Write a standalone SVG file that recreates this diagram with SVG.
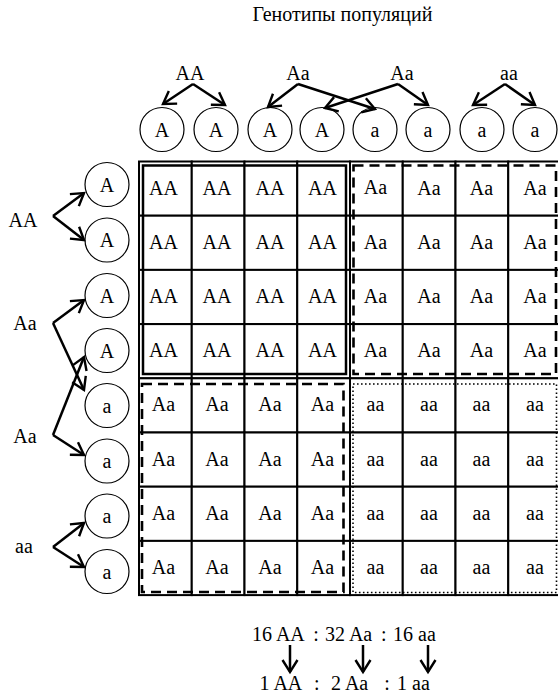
<svg xmlns="http://www.w3.org/2000/svg" width="558" height="694" viewBox="0 0 558 694" font-family="'Liberation Serif', 'Times New Roman', serif">
<style>
  text { font-family: "Liberation Serif", "Times New Roman", serif; font-size: 20px; fill: #000; text-anchor: middle; }
  .gam circle { fill: #fff; stroke: #000; stroke-width: 1.2; }
  .cell rect { fill: #fff; stroke: #000; stroke-width: 2; }
  .arr { fill: none; stroke: #000; stroke-width: 2.5; marker-end: url(#ah); }
  .box { fill: none; stroke: #000; }
  .l { text-anchor: start; }
</style>
<defs>
  <marker id="ah" viewBox="0 0 16 16" refX="14" refY="8" markerWidth="16" markerHeight="16" markerUnits="userSpaceOnUse" orient="auto" overflow="visible">
    <path d="M2,0.5 L14,8 L2,15.5" fill="none" stroke="#000" stroke-width="2.4"/>
  </marker>
</defs>
<rect width="558" height="694" fill="#fff"/>

<g id="title"><text x="342.5" y="20.5">Генотипы популяций</text></g>

<!-- parent genotype labels (top) -->
<g id="top-AA"><text x="190" y="79.5">AA</text></g>
<g id="top-Aa1"><text x="298" y="79.5">Aa</text></g>
<g id="top-Aa2"><text x="402" y="79.5">Aa</text></g>
<g id="top-aa"><text x="509" y="79.5">aa</text></g>

<!-- parent genotype labels (left) -->
<g id="left-AA"><text x="23" y="226.5">AA</text></g>
<g id="left-Aa1"><text x="25" y="330">Aa</text></g>
<g id="left-Aa2"><text x="25" y="443">Aa</text></g>
<g id="left-aa"><text x="24" y="553">aa</text></g>

<!-- top gametes -->
<g class="gam">
  <g id="tg1"><circle cx="162" cy="129.5" r="22"/><text x="162" y="137">A</text></g>
  <g id="tg2"><circle cx="216" cy="129.5" r="22"/><text x="216" y="137">A</text></g>
  <g id="tg3"><circle cx="270" cy="129.5" r="22"/><text x="270" y="137">A</text></g>
  <g id="tg4"><circle cx="322" cy="129.5" r="22"/><text x="322" y="137">A</text></g>
  <g id="tg5"><circle cx="375" cy="129.5" r="22"/><text x="375" y="137">a</text></g>
  <g id="tg6"><circle cx="428" cy="129.5" r="22"/><text x="428" y="137">a</text></g>
  <g id="tg7"><circle cx="482" cy="129.5" r="22"/><text x="482" y="137">a</text></g>
  <g id="tg8"><circle cx="535" cy="129.5" r="22"/><text x="535" y="137">a</text></g>
</g>

<!-- left gametes -->
<g class="gam">
  <g id="lg1"><circle cx="107" cy="184.5" r="22"/><text x="107" y="191.5">A</text></g>
  <g id="lg2"><circle cx="107" cy="240" r="22"/><text x="107" y="247">A</text></g>
  <g id="lg3"><circle cx="107" cy="295.5" r="22"/><text x="107" y="302.5">A</text></g>
  <g id="lg4"><circle cx="107" cy="350.5" r="22"/><text x="107" y="357.5">A</text></g>
  <g id="lg5"><circle cx="107" cy="405.5" r="22"/><text x="107" y="412.5">a</text></g>
  <g id="lg6"><circle cx="107" cy="461" r="22"/><text x="107" y="468">a</text></g>
  <g id="lg7"><circle cx="107" cy="516" r="22"/><text x="107" y="523">a</text></g>
  <g id="lg8"><circle cx="107" cy="571.5" r="22"/><text x="107" y="578.5">a</text></g>
</g>

<!-- Punnett grid cells -->
<g class="cell">
  <g id="c11"><rect x="139" y="161.5" width="52.75" height="54.2"/><text x="163.5" y="194.6">AA</text></g>
  <g id="c12"><rect x="191.75" y="161.5" width="52.75" height="54.2"/><text x="217" y="194.6">AA</text></g>
  <g id="c13"><rect x="244.5" y="161.5" width="52.75" height="54.2"/><text x="270" y="194.6">AA</text></g>
  <g id="c14"><rect x="297.25" y="161.5" width="52.75" height="54.2"/><text x="322.5" y="194.6">AA</text></g>
  <g id="c15"><rect x="350" y="161.5" width="52.75" height="54.2"/><text x="375.5" y="193.5">Aa</text></g>
  <g id="c16"><rect x="402.75" y="161.5" width="52.75" height="54.2"/><text x="429" y="194.6">Aa</text></g>
  <g id="c17"><rect x="455.5" y="161.5" width="52.75" height="54.2"/><text x="481.5" y="194.6">Aa</text></g>
  <g id="c18"><rect x="508.25" y="161.5" width="52.75" height="54.2"/><text x="535" y="194.6">Aa</text></g>

  <g id="c21"><rect x="139" y="215.7" width="52.75" height="54.2"/><text x="163.5" y="248.8">AA</text></g>
  <g id="c22"><rect x="191.75" y="215.7" width="52.75" height="54.2"/><text x="217" y="248.8">AA</text></g>
  <g id="c23"><rect x="244.5" y="215.7" width="52.75" height="54.2"/><text x="270" y="248.8">AA</text></g>
  <g id="c24"><rect x="297.25" y="215.7" width="52.75" height="54.2"/><text x="322.5" y="248.8">AA</text></g>
  <g id="c25"><rect x="350" y="215.7" width="52.75" height="54.2"/><text x="375.5" y="248.8">Aa</text></g>
  <g id="c26"><rect x="402.75" y="215.7" width="52.75" height="54.2"/><text x="429" y="248.8">Aa</text></g>
  <g id="c27"><rect x="455.5" y="215.7" width="52.75" height="54.2"/><text x="481.5" y="248.8">Aa</text></g>
  <g id="c28"><rect x="508.25" y="215.7" width="52.75" height="54.2"/><text x="535" y="248.8">Aa</text></g>

  <g id="c31"><rect x="139" y="269.9" width="52.75" height="54.2"/><text x="163.5" y="303">AA</text></g>
  <g id="c32"><rect x="191.75" y="269.9" width="52.75" height="54.2"/><text x="217" y="303">AA</text></g>
  <g id="c33"><rect x="244.5" y="269.9" width="52.75" height="54.2"/><text x="270" y="303">AA</text></g>
  <g id="c34"><rect x="297.25" y="269.9" width="52.75" height="54.2"/><text x="322.5" y="303">AA</text></g>
  <g id="c35"><rect x="350" y="269.9" width="52.75" height="54.2"/><text x="375.5" y="303">Aa</text></g>
  <g id="c36"><rect x="402.75" y="269.9" width="52.75" height="54.2"/><text x="429" y="303">Aa</text></g>
  <g id="c37"><rect x="455.5" y="269.9" width="52.75" height="54.2"/><text x="481.5" y="303">Aa</text></g>
  <g id="c38"><rect x="508.25" y="269.9" width="52.75" height="54.2"/><text x="535" y="303">Aa</text></g>

  <g id="c41"><rect x="139" y="324.1" width="52.75" height="54.2"/><text x="163.5" y="357.2">AA</text></g>
  <g id="c42"><rect x="191.75" y="324.1" width="52.75" height="54.2"/><text x="217" y="357.2">AA</text></g>
  <g id="c43"><rect x="244.5" y="324.1" width="52.75" height="54.2"/><text x="270" y="357.2">AA</text></g>
  <g id="c44"><rect x="297.25" y="324.1" width="52.75" height="54.2"/><text x="322.5" y="357.2">AA</text></g>
  <g id="c45"><rect x="350" y="324.1" width="52.75" height="54.2"/><text x="375.5" y="357.2">Aa</text></g>
  <g id="c46"><rect x="402.75" y="324.1" width="52.75" height="54.2"/><text x="429" y="357.2">Aa</text></g>
  <g id="c47"><rect x="455.5" y="324.1" width="52.75" height="54.2"/><text x="481.5" y="357.2">Aa</text></g>
  <g id="c48"><rect x="508.25" y="324.1" width="52.75" height="54.2"/><text x="535" y="357.2">Aa</text></g>

  <g id="c51"><rect x="139" y="378.3" width="52.75" height="54.2"/><text x="163.5" y="411.4">Aa</text></g>
  <g id="c52"><rect x="191.75" y="378.3" width="52.75" height="54.2"/><text x="217" y="411.4">Aa</text></g>
  <g id="c53"><rect x="244.5" y="378.3" width="52.75" height="54.2"/><text x="270" y="411.4">Aa</text></g>
  <g id="c54"><rect x="297.25" y="378.3" width="52.75" height="54.2"/><text x="322.5" y="411.4">Aa</text></g>
  <g id="c55"><rect x="350" y="378.3" width="52.75" height="54.2"/><text x="375.5" y="411.4">aa</text></g>
  <g id="c56"><rect x="402.75" y="378.3" width="52.75" height="54.2"/><text x="429" y="411.4">aa</text></g>
  <g id="c57"><rect x="455.5" y="378.3" width="52.75" height="54.2"/><text x="481.5" y="411.4">aa</text></g>
  <g id="c58"><rect x="508.25" y="378.3" width="52.75" height="54.2"/><text x="535" y="411.4">aa</text></g>

  <g id="c61"><rect x="139" y="432.5" width="52.75" height="54.2"/><text x="163.5" y="465.6">Aa</text></g>
  <g id="c62"><rect x="191.75" y="432.5" width="52.75" height="54.2"/><text x="217" y="465.6">Aa</text></g>
  <g id="c63"><rect x="244.5" y="432.5" width="52.75" height="54.2"/><text x="270" y="465.6">Aa</text></g>
  <g id="c64"><rect x="297.25" y="432.5" width="52.75" height="54.2"/><text x="322.5" y="465.6">Aa</text></g>
  <g id="c65"><rect x="350" y="432.5" width="52.75" height="54.2"/><text x="375.5" y="465.6">aa</text></g>
  <g id="c66"><rect x="402.75" y="432.5" width="52.75" height="54.2"/><text x="429" y="465.6">aa</text></g>
  <g id="c67"><rect x="455.5" y="432.5" width="52.75" height="54.2"/><text x="481.5" y="465.6">aa</text></g>
  <g id="c68"><rect x="508.25" y="432.5" width="52.75" height="54.2"/><text x="535" y="465.6">aa</text></g>

  <g id="c71"><rect x="139" y="486.7" width="52.75" height="54.2"/><text x="163.5" y="519.8">Aa</text></g>
  <g id="c72"><rect x="191.75" y="486.7" width="52.75" height="54.2"/><text x="217" y="519.8">Aa</text></g>
  <g id="c73"><rect x="244.5" y="486.7" width="52.75" height="54.2"/><text x="270" y="519.8">Aa</text></g>
  <g id="c74"><rect x="297.25" y="486.7" width="52.75" height="54.2"/><text x="322.5" y="519.8">Aa</text></g>
  <g id="c75"><rect x="350" y="486.7" width="52.75" height="54.2"/><text x="375.5" y="519.8">aa</text></g>
  <g id="c76"><rect x="402.75" y="486.7" width="52.75" height="54.2"/><text x="429" y="519.8">aa</text></g>
  <g id="c77"><rect x="455.5" y="486.7" width="52.75" height="54.2"/><text x="481.5" y="519.8">aa</text></g>
  <g id="c78"><rect x="508.25" y="486.7" width="52.75" height="54.2"/><text x="535" y="519.8">aa</text></g>

  <g id="c81"><rect x="139" y="540.9" width="52.75" height="54.2"/><text x="163.5" y="574">Aa</text></g>
  <g id="c82"><rect x="191.75" y="540.9" width="52.75" height="54.2"/><text x="217" y="574">Aa</text></g>
  <g id="c83"><rect x="244.5" y="540.9" width="52.75" height="54.2"/><text x="270" y="574">Aa</text></g>
  <g id="c84"><rect x="297.25" y="540.9" width="52.75" height="54.2"/><text x="322.5" y="574">Aa</text></g>
  <g id="c85"><rect x="350" y="540.9" width="52.75" height="54.2"/><text x="375.5" y="574">aa</text></g>
  <g id="c86"><rect x="402.75" y="540.9" width="52.75" height="54.2"/><text x="429" y="574">aa</text></g>
  <g id="c87"><rect x="455.5" y="540.9" width="52.75" height="54.2"/><text x="481.5" y="574">aa</text></g>
  <g id="c88"><rect x="508.25" y="540.9" width="52.75" height="54.2"/><text x="535" y="574">aa</text></g>
</g>

<!-- quadrant outlines -->
<g id="quadrants">
  <rect class="box" x="143" y="165.5" width="203" height="208.5" stroke-width="2.5"/>
  <rect class="box" x="353.5" y="165.5" width="202.5" height="208.5" stroke-width="2.6" stroke-dasharray="10 6"/>
  <rect class="box" x="142" y="384" width="201.5" height="208" stroke-width="2.6" stroke-dasharray="10 6"/>
  <rect class="box" x="353" y="384" width="203.5" height="208.5" stroke-width="1.6" stroke-dasharray="1.6 2.4"/>
</g>

<!-- connectors -->
<g id="connectors">
  <path class="arr" d="M193,84 L163,104"/>
  <path class="arr" d="M193,84 L225,105"/>
  <path class="arr" d="M298,84 L268,107"/>
  <path class="arr" d="M298,84 L375,109"/>
  <path class="arr" d="M398,84 L325,108"/>
  <path class="arr" d="M398,84 L428,105"/>
  <path class="arr" d="M505,84 L473,105"/>
  <path class="arr" d="M505,84 L535,105"/>

  <path class="arr" d="M53,216 L84,193"/>
  <path class="arr" d="M53,216 L84,240"/>
  <path class="arr" d="M53,323 L84,300"/>
  <path class="arr" d="M53,323 L84,390"/>
  <path class="arr" d="M53,435 L84,357"/>
  <path class="arr" d="M53,435 L84,455"/>
  <path class="arr" d="M53,547 L84,523"/>
  <path class="arr" d="M53,547 L84,567"/>

  <path class="arr" d="M290,645 L290,672"/>
  <path class="arr" d="M363,645 L363,672"/>
  <path class="arr" d="M428,645 L428,672"/>
</g>

<!-- ratios -->
<g id="ratio-16">
  <text class="l" x="252" y="641">16 AA</text>
  <text x="316" y="641">:</text>
  <text class="l" x="325" y="641">32 Aa</text>
  <text x="383.7" y="641">:</text>
  <text class="l" x="393" y="641">16 aa</text>
</g>
<g id="ratio-1">
  <text class="l" x="259.5" y="690">1 AA</text>
  <text x="316.7" y="690">:</text>
  <text class="l" x="331" y="690">2 Aa</text>
  <text x="387" y="690">:</text>
  <text class="l" x="397" y="690">1 aa</text>
</g>
</svg>
